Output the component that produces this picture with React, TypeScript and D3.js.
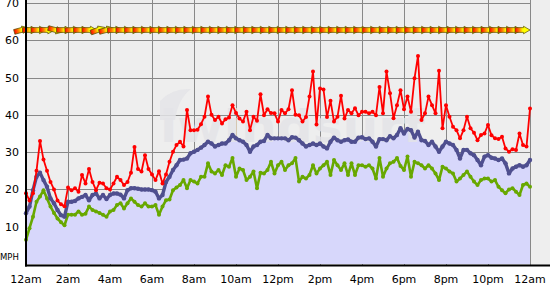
import React from "react";
import * as d3 from "d3";

// 10-minute samples, 12am .. 12am (145 values)
const gust: number[] = [
  19, 17, 19, 25, 33, 28,
  25, 22, 20, 17, 16, 15.5,
  20.5, 19.8, 20.3, 19.4, 23.9, 21.6,
  25.5, 22, 19.8, 21.8, 21.6, 20.3,
  20, 21.6, 23.4, 22.5, 21.2, 22,
  24.5, 31.4, 25.5, 24.8, 29.2, 25.5,
  24, 22.5, 24.9, 21.6, 24, 27.4,
  30.1, 31.9, 32.8, 31.5, 41.3, 35.9,
  35.9, 36, 37.5, 39.5, 44.9, 40,
  38.6, 39.5, 37.7, 38.8, 39.3, 42.6,
  40.5, 39, 38.2, 40.8, 35.9, 39.5,
  38.4, 45.5, 39.9, 41.5, 40.5, 40.4,
  38.2, 41.3, 40.4, 41.5, 46.6, 40,
  39.9, 38.2, 39.4, 44.9, 51.6, 37.4,
  47.1, 46.8, 39.4, 43.8, 38.2, 39.5,
  45.1, 39, 41.3, 40.4, 41.8, 39.9,
  40.8, 40.8, 40.4, 40.8, 39.9, 47.5,
  40.4, 51.6, 45.8, 39.1, 42.6, 46.6,
  41.5, 44.9, 40.8, 49.8, 55.8, 38.6,
  40.4, 44.9, 42.6, 40.4, 51.8, 36.4,
  42.6, 39.5, 36.8, 35.9, 33.7, 35.9,
  39.5, 36.4, 35.2, 33.2, 34.6, 35,
  37.3, 34.5, 33.7, 33.5, 34.1, 31,
  30.1, 30.8, 30.6, 35, 31.9, 31.5,
  41.7,
];

const avg: number[] = [
  13.6, 15.4, 19.8, 23.4, 24.5, 22.5,
  20.7, 17.6, 16.3, 14.5, 13.1, 12.7,
  16.7, 16.7, 16.9, 17.6, 18, 18.5,
  17.1, 18.5, 18.9, 17.6, 18.5, 17.4,
  18.5, 18.9, 18.9, 18.6, 17.6, 19.8,
  20.3, 20.3, 20.2, 20, 20, 20,
  19.8, 19.4, 17.6, 18.5, 22, 23.4,
  25.2, 26.5, 27.9, 28, 28.3, 29.7,
  30.1, 30.6, 31.2, 31.9, 32.8, 32.3,
  31.5, 31.9, 32.3, 32.3, 33.2, 34.6,
  33.7, 33.2, 32.8, 31.9, 30.1, 31.5,
  31.9, 32.8, 33, 34.6, 33.7, 33.7,
  33.7, 33.7, 33.7, 33.2, 34, 33.9,
  33.2, 32.3, 31.5, 31.9, 32.3, 31.9,
  32.3, 31.5, 31, 32.8, 33.9, 33.2,
  32.8, 33.2, 33.4, 32.8, 32.8, 33.9,
  34, 33.5, 33.7, 32.8, 31.5, 33.5,
  33.5, 33.2, 34.3, 33.7, 34.6, 36.4,
  35, 36.2, 35.9, 33.9, 35.5, 33.2,
  33, 31.9, 32.8, 31.5, 30.1, 31.5,
  32.8, 32.3, 31.9, 30.6, 28.3, 30.6,
  30.6, 29.7, 29.2, 27.9, 26.5, 28.8,
  29.2, 28.5, 28.3, 27.9, 28.3, 27,
  24.3, 25.6, 26.1, 26.5, 26.1, 26.5,
  27.9,
];

const lull: number[] = [
  6.5, 9.6, 12.7, 16.7, 18.1, 19.8,
  17.6, 15.4, 13.7, 12.2, 11.2, 10.4,
  13.2, 13.2, 13.2, 14.1, 13.2, 13.5,
  15.4, 14.5, 14.1, 13.7, 13.2, 12.7,
  14.1, 14.5, 15.8, 16.3, 14.9, 16.3,
  17.6, 16.7, 15.8, 15.4, 16.3, 15.4,
  15.4, 15.8, 13.2, 15.4, 17.1, 17.3,
  19.8, 20.5, 21.2, 22.5, 20.3, 22.5,
  22.1, 21.6, 23.4, 23.4, 27, 24.8,
  24.3, 25.2, 23.9, 26.5, 26.1, 28.4,
  23.4, 25.6, 25.2, 22.5, 23.4, 24.8,
  20.3, 24.5, 24.3, 25.2, 27.4, 24.3,
  26.5, 27.4, 25.2, 26.5, 27, 28.4,
  22.1, 23.4, 22.9, 23.9, 26.5, 24.3,
  25.6, 26.5, 27.4, 23.9, 27.9, 26.5,
  25.2, 27, 23.9, 27, 23.9, 26.5,
  26.5, 26.1, 26.5, 25.6, 22.9, 28.4,
  23.4, 25.6, 27, 27.4, 28.4, 26.3,
  25.2, 28.8, 23.4, 27.4, 27, 26.5,
  25.6, 26.5, 25.6, 24.3, 22.5, 26.1,
  25.6, 24.8, 24.3, 22.1, 22.9, 23.9,
  24.8, 23.4, 22.1, 21.2, 22.5, 22.9,
  22.9, 22.1, 22.5, 20.7, 19.8, 19,
  20, 20.3, 19.4, 18.5, 21.2, 21.6,
  20.7,
];

// wind direction (degrees, "from"), one arrow every ~24 minutes
const windDir: number[] = [
  255, 270, 270, 272, 285, 270, 268, 270, 270, 250,
  255, 268, 270, 270, 270, 270, 270, 270, 270, 270,
  270, 270, 270, 270, 270, 270, 270, 270, 270, 270,
  270, 270, 270, 270, 270, 270, 270, 270, 270, 270,
  270, 270, 270, 270, 270, 270, 270, 270, 270, 270,
  270, 270, 270, 270, 270, 270, 270, 270, 270, 270,
];

const timeLabels = ["12am", "2am", "4am", "6am", "8am", "10am", "12pm", "2pm", "4pm", "6pm", "8pm", "10pm", "12am"];
const yTicks = [10, 20, 30, 40, 50, 60, 70];

const W = 550, H = 285;
const left = 26, right = 530, top = 3, bottom = 264;
const axisY = 265.5;

export default function App() {
  const x = d3.scaleLinear().domain([0, 24]).range([left, right]);
  const y = d3.scaleLinear().domain([0, 70]).range([bottom, top]);
  const t = (i: number) => i / 6;

  const line = d3.line<number>().x((_, i) => x(t(i))).y((d) => y(d));
  const area = d3.area<number>().x((_, i) => x(t(i))).y0(y(0)).y1((d) => y(d));

  const arrowX = d3.scaleLinear().domain([0, windDir.length - 1]).range([21.5, 522.5]);
  const arrowPath = "M-7.5,-2.4 L1,-2.4 L1,-3.8 L7.5,0 L1,3.8 L1,2.4 L-7.5,2.4 Z";

  const red = "#ff0000", blue = "#4f4f8f", green = "#68a800";
  const wm = "#e4e4e8";

  return (
    <svg width={W} height={H} style={{ position: "absolute", left: 0, top: 0 }} fontFamily="DejaVu Sans, Verdana, sans-serif">
      <defs>
        <linearGradient id="arrowGrad" x1="0" y1="0" x2="1" y2="0">
          <stop offset="0" stopColor="#ff0000" />
          <stop offset="0.28" stopColor="#ff7a00" />
          <stop offset="0.52" stopColor="#ffff00" />
          <stop offset="1" stopColor="#ffff00" />
        </linearGradient>
        <clipPath id="plotClip">
          <rect x={0} y={0} width={W} height={axisY} />
        </clipPath>
      </defs>
      <rect x={0} y={0} width={W} height={H} fill="#ffffff" />
      <rect x={left} y={0} width={W - left} height={axisY} fill="#eeeeee" />

      {/* grid */}
      {yTicks.map((v) => (
        <line key={"h" + v} x1={left} x2={right} y1={Math.round(y(v)) + 0.5} y2={Math.round(y(v)) + 0.5} stroke="#888888" strokeWidth={1} />
      ))}
      {timeLabels.map((_, k) => k > 0 && (
        <line key={"v" + k} x1={Math.round(x(k * 2)) + 0.5} x2={Math.round(x(k * 2)) + 0.5} y1={0} y2={axisY} stroke="#888888" strokeWidth={1} />
      ))}

      {/* area under average */}
      <path d={area(avg) || ""} fill="#d7d7fb" />

      {/* watermark */}
      <g fill={wm} fillOpacity={0.85}>
        <path d="M160,120 L160,101 Q172,88 191,89 Q178,99 175,120 Z" />
        <text x={160} y={142} fontSize={44} fontWeight="bold" textLength={265} lengthAdjust="spacingAndGlyphs">iwindsurf</text>
      </g>

      {/* lull */}
      <path d={line(lull) || ""} fill="none" stroke={green} strokeWidth={2.6} strokeLinejoin="round" />
      {lull.map((d, i) => <circle key={"g" + i} cx={x(t(i))} cy={y(d)} r={2} fill={green} />)}

      {/* average */}
      <path d={line(avg) || ""} fill="none" stroke={blue} strokeWidth={3.4} strokeLinejoin="round" />
      {avg.map((d, i) => <circle key={"b" + i} cx={x(t(i))} cy={y(d)} r={2.2} fill={blue} />)}

      {/* gust */}
      <path d={line(gust) || ""} fill="none" stroke={red} strokeWidth={1.8} strokeLinejoin="round" />
      {gust.map((d, i) => <circle key={"r" + i} cx={x(t(i))} cy={y(d)} r={2} fill={red} />)}

      {/* wind direction arrows */}
      <g clipPath="url(#plotClip)">
        {windDir.map((d, i) => (
          <path key={"a" + i} d={arrowPath} transform={`translate(${arrowX(i)},30) rotate(${d - 270})`}
            fill="url(#arrowGrad)" stroke="#5a5200" strokeWidth={0.7} />
        ))}
      </g>

      {/* axes */}
      <line x1={left} x2={left} y1={0} y2={axisY + 1} stroke="#000" strokeWidth={2} />
      <line x1={left - 1} x2={W} y1={axisY} y2={axisY} stroke="#000" strokeWidth={2} />

      {/* labels */}
      {yTicks.map((v) => (
        <text key={"yl" + v} x={19} y={y(v)} dy="0.36em" fontSize={11} textAnchor="end" fill="#000">{v}</text>
      ))}
      <text x={0} y={260} fontSize={8.5} fill="#000">MPH</text>
      {timeLabels.map((lab, k) => (
        <text key={"xl" + k} x={x(k * 2)} y={283} fontSize={11} textAnchor="middle" fill="#000">{lab}</text>
      ))}
    </svg>
  );
}
